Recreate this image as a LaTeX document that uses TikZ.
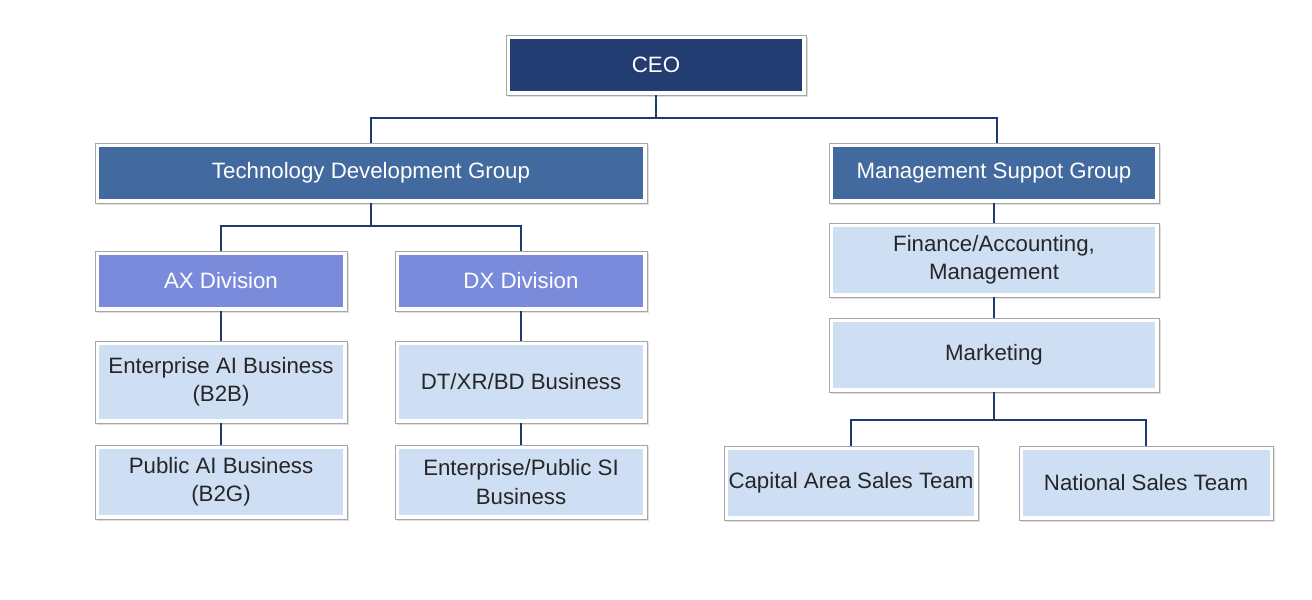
\documentclass[tikz,border=0pt]{standalone}
\usepackage{fontspec}
\setmainfont{Liberation Sans}
\usetikzlibrary{positioning}
\definecolor{ceoblue}{HTML}{233D72}
\definecolor{grpblue}{HTML}{436A9E}
\definecolor{divblue}{HTML}{7B8BDB}
\definecolor{teamblue}{HTML}{CFDFF3}
\definecolor{linkblue}{HTML}{1F3A6E}
\def\pxu{0.03cm}
\tikzset{
	box/.style={draw=gray!70, fill=white, line width=0.6pt, align=center,
		font=\fontsize{19}{24}\selectfont, inner sep=0pt,
		preaction={fill=gray!25, transform canvas={shift={(2pt,-2pt)}}},
		path picture={\fill[#1] ([shift={(3pt,3pt)}]path picture bounding box.south west)
			rectangle ([shift={(-3pt,-3pt)}]path picture bounding box.north east);}},
	ceo node/.style={box=ceoblue, text=white, minimum width={300*\pxu}, minimum height={60*\pxu}},
	group node/.style={box=grpblue, text=white, minimum height={60*\pxu}},
	div node/.style={box=divblue, text=white, minimum width={252*\pxu}, minimum height={60*\pxu}},
	team node/.style={box=teamblue, text=black!85, minimum height={74*\pxu}},
	link/.style={draw=linkblue, line width=1.6pt}
}
\begin{document}
\begin{tikzpicture}[x=\pxu,y=-\pxu]
    \useasboundingbox (0,0) rectangle (1312,600);

    \node[ceo node] (ceo) at (656,65) {CEO};
    \node[group node,minimum width={552*\pxu}] (tdg) at (371,173) {Technology Development Group};
    \node[group node,minimum width={330*\pxu}] (msg) at (994,173) {Management Suppot Group};

    % technology side
    \node[div node] (ax) at (221,281) {AX Division};
    \node[div node] (dx) at (521,281) {DX Division};
    \node[team node,minimum width={252*\pxu},minimum height={82*\pxu}] (eai) at (221,382) {Enterprise AI Business\\(B2B)};
    \node[team node,minimum width={252*\pxu},minimum height={82*\pxu}] (dtxr) at (521,382) {DT/XR/BD Business};
    \node[team node,minimum width={252*\pxu}] (pai) at (221,482) {Public AI Business\\(B2G)};
    \node[team node,minimum width={252*\pxu}] (epsi) at (521,482) {Enterprise/Public SI\\Business};

    % management side
    \node[team node,minimum width={330*\pxu}] (fin) at (994,260) {Finance/Accounting,\\Management};
    \node[team node,minimum width={330*\pxu}] (mkt) at (994,355) {Marketing};
    \node[team node,minimum width={254*\pxu}] (cap) at (851,483) {Capital Area Sales Team};
    \node[team node,minimum width={254*\pxu}] (nat) at (1146,483) {National Sales Team};

    \path[link] (ceo.south) |- (371,118) coordinate (top) -- (tdg.north)
      (top) -| (997,143);
    \path[link] (tdg.south) |- (221,226) coordinate (mid) -- (ax.north)
      (mid) -| (dx.north);
    \path[link] (ax) -- (eai) (eai) -- (pai) (dx) -- (dtxr) (dtxr) -- (epsi);
    \path[link] (msg) -- (fin) (fin) -- (mkt);
    \path[link] (mkt.south) |- (851,420) coordinate (low) -- (cap.north)
      (low) -| (nat.north);
\end{tikzpicture}
\end{document}
